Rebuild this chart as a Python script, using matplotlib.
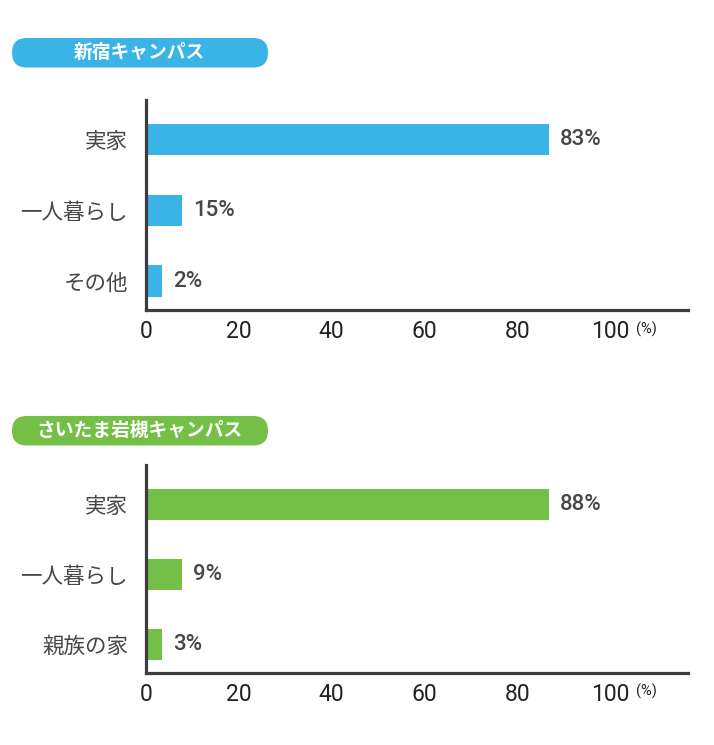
import matplotlib.pyplot as plt
from matplotlib.patches import FancyBboxPatch
from matplotlib.transforms import blended_transform_factory

plt.rcParams["font.family"] = ["Noto Sans CJK JP", "DejaVu Sans"]

# Data
shinjuku_cats = ["実家", "一人暮らし", "その他"]
shinjuku_pct = [83, 15, 2]           # printed percentages
shinjuku_len = [86.8, 7.8, 3.4]      # bar lengths as drawn on the axis scale

iwatsuki_cats = ["実家", "一人暮らし", "親族の家"]
iwatsuki_pct = [88, 9, 3]
iwatsuki_len = [86.8, 7.8, 3.4]

xticks = [0, 20, 40, 60, 80, 100]

BLUE = "#3ab4e7"
GREEN = "#74bf45"
AXIS = "#3d3d3d"
TEXT = "#474747"

fig = plt.figure(figsize=(7.14, 7.45), dpi=100)
W, H = 714, 745


def panel(bottom_px, top_px, cats, pct, lengths, color):
    ax = fig.add_axes([146 / W, 1 - bottom_px / H, 542 / W, (bottom_px - top_px) / H])
    y = list(range(len(cats)))
    ax.barh(y, lengths, height=0.44, color=color)
    ax.set_xlim(0, 116.8)
    ax.set_ylim(2.41, -0.56)
    ax.set_yticks(y)
    ax.set_yticklabels(cats, fontsize=15.5, color=TEXT)
    ax.set_xticks(xticks)
    ax.set_xticklabels([str(t) for t in xticks], fontsize=16.5, color="#222222",
                       family=["Roboto", "DejaVu Sans"])
    ax.tick_params(axis="y", length=0, pad=13)
    ax.tick_params(axis="x", length=0, pad=7)
    for s in ["top", "right"]:
        ax.spines[s].set_visible(False)
    for s in ["left", "bottom"]:
        ax.spines[s].set_color(AXIS)
        ax.spines[s].set_linewidth(2.3)
    for yi, ln, p in zip(y, lengths, pct):
        ax.annotate(f"{p}%", (ln, yi), xytext=(8, 0), textcoords="offset points",
                    ha="left", va="center", fontsize=16, fontweight="medium",
                    color=TEXT, family=["Roboto", "DejaVu Sans"])
    tr = blended_transform_factory(ax.transData, ax.transAxes)
    ax.text(105.5, -0.09, "(%)", transform=tr, fontsize=10.5, color="#222222",
            ha="left", va="center", family=["Roboto", "DejaVu Sans"])
    return ax


def pill(top_px, label, color):
    bx = FancyBboxPatch((0.12, (H - top_px - 29.5) / 100), 2.56, 0.295,
                        boxstyle="round,pad=0,rounding_size=0.147",
                        transform=fig.dpi_scale_trans, facecolor=color,
                        edgecolor="none")
    fig.patches.append(bx)
    fig.text(1.39, (H - top_px - 14.5) / 100, label, transform=fig.dpi_scale_trans,
             ha="center", va="center", color="white", fontsize=13.5,
             fontweight="bold")


pill(38, "新宿キャンパス", BLUE)
panel(310, 100, shinjuku_cats, shinjuku_pct, shinjuku_len, BLUE)

pill(416, "さいたま岩槻キャンパス", GREEN)
panel(673, 465, iwatsuki_cats, iwatsuki_pct, iwatsuki_len, GREEN)

fig.savefig("out.png", dpi=100, facecolor="white")
